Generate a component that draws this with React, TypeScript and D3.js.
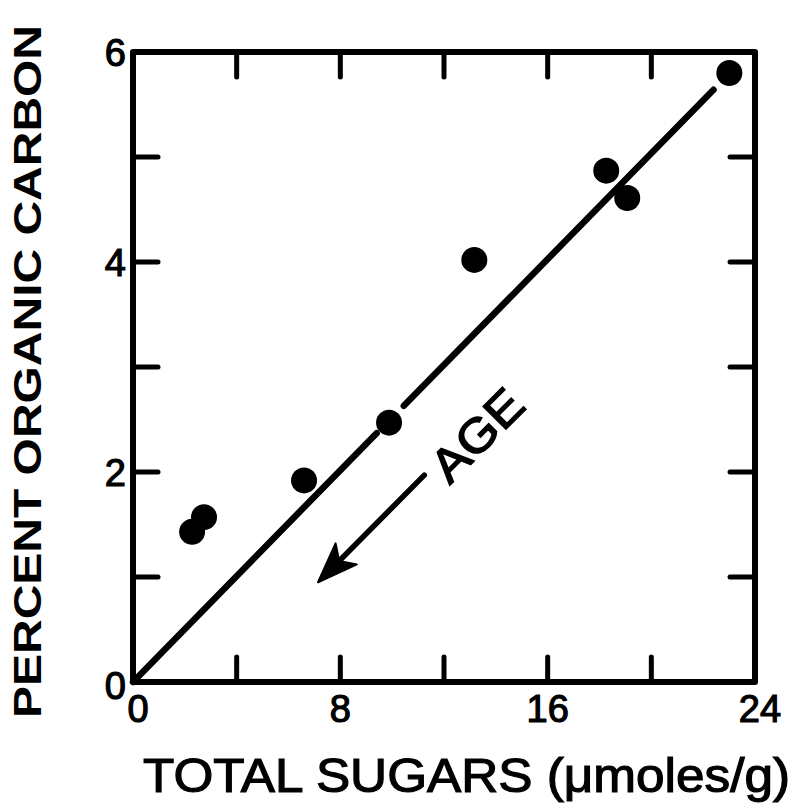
import React from "react";
import * as d3 from "d3";

// ---- data ----
const sugars = [2.28, 2.74, 6.6, 9.88, 13.17, 18.26, 19.07, 23.01];
const organicCarbon = [1.43, 1.57, 1.92, 2.47, 4.02, 4.87, 4.61, 5.8];
const fitSegmentA: [number, number][] = [[0, 0], [9.4, 2.37]];
const fitSegmentB: [number, number][] = [[10.45, 2.63], [22.4, 5.64]];
const ageArrow: [number, number][] = [[11.24, 1.97], [7.14, 0.95]];
const xTickValues = [0, 4, 8, 12, 16, 20, 24];
const xTickLabels = [0, 8, 16, 24];
const yTickValues = [0, 1, 2, 3, 4, 5, 6];
const yTickLabels = [0, 2, 4, 6];
const xTitle = "TOTAL SUGARS (\u03bcmoles/g)";
const yTitle = "PERCENT ORGANIC CARBON";
const annotation = "AGE";

const W = 793;
const H = 809;
const FONT = "'Liberation Sans', Arial, Helvetica, sans-serif";

export default function App() {
  const x = d3.scaleLinear().domain([0, 24]).range([133, 755]);
  const y = d3.scaleLinear().domain([0, 6]).range([682, 52]);
  const line = d3
    .line<[number, number]>()
    .x((d) => x(d[0]))
    .y((d) => y(d[1]));

  const tickLen = 25;
  const [a0, a1] = ageArrow;
  const sx = x(a0[0]), sy = y(a0[1]);
  const tx = x(a1[0]), ty = y(a1[1]);
  const ang = Math.atan2(ty - sy, tx - sx);
  const headLen = 40, headHalf = 15, notch = 30;
  const ux = Math.cos(ang), uy = Math.sin(ang);
  const px = -uy, py = ux;
  const bx = tx - ux * headLen, by = ty - uy * headLen;
  const nx = tx - ux * notch, ny = ty - uy * notch;
  const head = `M${tx},${ty} L${bx + px * headHalf},${by + py * headHalf} L${nx},${ny} L${bx - px * headHalf},${by - py * headHalf} Z`;

  return (
    <svg
      width={W}
      height={H}
      viewBox={`0 0 ${W} ${H}`}
      style={{ position: "absolute", left: 0, top: 0, background: "#fff" }}
    >
      <rect width={W} height={H} fill="#fff" />
      {/* frame */}
      <rect
        x={x(0)}
        y={y(6)}
        width={x(24) - x(0)}
        height={y(0) - y(6)}
        fill="none"
        stroke="#000"
        strokeWidth={6}
        strokeLinejoin="round"
      />
      {/* x ticks bottom and top */}
      {xTickValues.slice(1, -1).map((v) => (
        <g key={"xt" + v}>
          <line x1={x(v)} x2={x(v)} y1={y(0)} y2={y(0) - tickLen} stroke="#000" strokeWidth={5} strokeLinecap="round" />
          <line x1={x(v)} x2={x(v)} y1={y(6)} y2={y(6) + tickLen} stroke="#000" strokeWidth={5} strokeLinecap="round" />
        </g>
      ))}
      {/* y ticks left and right */}
      {yTickValues.slice(1, -1).map((v) => (
        <g key={"yt" + v}>
          <line x1={x(0)} x2={x(0) + tickLen} y1={y(v)} y2={y(v)} stroke="#000" strokeWidth={5} strokeLinecap="round" />
          <line x1={x(24)} x2={x(24) - tickLen} y1={y(v)} y2={y(v)} stroke="#000" strokeWidth={5} strokeLinecap="round" />
        </g>
      ))}
      {/* x tick labels */}
      {xTickLabels.map((v) => (
        <text key={"xl" + v} x={x(v) + (v === 0 ? 5 : v === 24 ? 5 : 0)} y={722} textAnchor="middle" fontFamily={FONT} fontSize={38} fill="#000" stroke="#000" strokeWidth={1.2}>
          {v}
        </text>
      ))}
      {/* y tick labels */}
      {yTickLabels.map((v) => (
        <text key={"yl" + v} x={126} y={y(v) + 14 + (v === 0 ? 3 : 0)} textAnchor="end" fontFamily={FONT} fontSize={38} fill="#000" stroke="#000" strokeWidth={1.2}>
          {v}
        </text>
      ))}
      {/* fit line */}
      {[fitSegmentA, fitSegmentB].map((seg, i) => (
        <path key={"fit" + i} d={line(seg) || ""} fill="none" stroke="#000" strokeWidth={6.5} strokeLinecap="round" />
      ))}
      {/* points */}
      {sugars.map((s, i) => (
        <circle key={"p" + i} cx={x(s)} cy={y(organicCarbon[i])} r={13} fill="#000" />
      ))}
      {/* AGE arrow */}
      <line x1={sx} y1={sy} x2={nx} y2={ny} stroke="#000" strokeWidth={5.5} strokeLinecap="round" />
      <path d={head} fill="#000" stroke="#000" strokeWidth={2} strokeLinejoin="round" />
      <text
        x={0}
        y={0}
        transform={`translate(477,435) rotate(-45)`}
        textAnchor="middle"
        dominantBaseline="central"
        fontFamily={FONT}
        fontSize={47}
        textLength={110}
        lengthAdjust="spacingAndGlyphs"
        fill="#000"
        stroke="#000"
        strokeWidth={1.5}
      >
        {annotation}
      </text>
      {/* axis titles */}
      <text x={143} y={792} fontFamily={FONT} fontSize={48} textLength={647} lengthAdjust="spacingAndGlyphs" fill="#000" stroke="#000" strokeWidth={1.2}>
        {xTitle}
      </text>
      <text
        transform={`translate(41,718) rotate(-90)`}
        fontFamily={FONT}
        fontSize={38}
        fontWeight="bold"
        textLength={693}
        lengthAdjust="spacingAndGlyphs"
        fill="#000"
      >
        {yTitle}
      </text>
    </svg>
  );
}
